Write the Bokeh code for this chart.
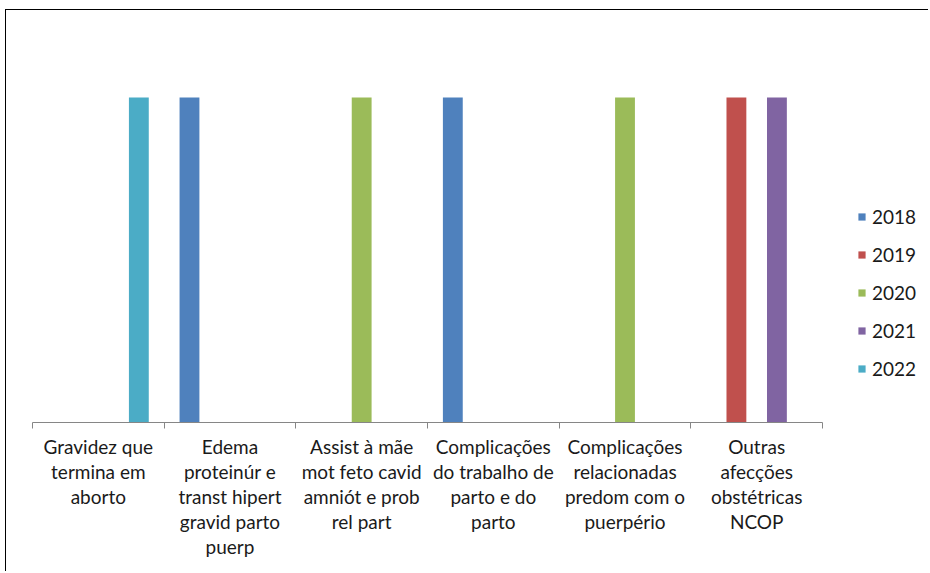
import numpy as np
from bokeh.plotting import figure
from bokeh.models import Range1d, FixedTicker, Legend, LegendItem, ColumnDataSource
from bokeh.embed import file_html
from bokeh.resources import INLINE

categories = [
    "Gravidez que\ntermina em\naborto",
    "Edema\nproteinúr e\ntranst hipert\ngravid parto\npuerp",
    "Assist à mãe\nmot feto cavid\namniót e prob\nrel part",
    "Complicações\ndo trabalho de\nparto e do\nparto",
    "Complicações\nrelacionadas\npredom com o\npuerpério",
    "Outras\nafecções\nobstétricas\nNCOP",
]
years = ["2018", "2019", "2020", "2021", "2022"]
v2018 = [0, 1, 0, 1, 0, 0]
v2019 = [0, 0, 0, 0, 0, 1]
v2020 = [0, 0, 1, 0, 1, 0]
v2021 = [0, 0, 0, 0, 0, 1]
v2022 = [1, 0, 0, 0, 0, 0]
series = [v2018, v2019, v2020, v2021, v2022]
colors = ["#4F81BD", "#C0504D", "#9BBB59", "#8064A2", "#4BACC6"]

n = len(categories)
k = len(years)
gap = 1.5
bw = 1.0 / (k + gap)

# figure content starts at page (6, 10) because of the CSS margin + border
W, H = 923, 562
ml, mr, mt = 26, 3, 22
mb = H - (422 - 10)
frame_w = W - ml - mr
axis_w = 790  # pixel span of the category axis
x_end = n * frame_w / axis_w

p = figure(width=W, height=H, output_backend="svg", toolbar_location=None,
           x_range=Range1d(0, x_end), y_range=Range1d(0, 1.2),
           min_border_left=ml, min_border_right=mr, min_border_top=mt,
           min_border_bottom=mb)
p.styles = {
    "margin-left": "5px",
    "margin-top": "9px",
    "border-top": "1px solid #000",
    "border-left": "1px solid #000",
}
p.outline_line_color = None
p.grid.visible = False
p.yaxis.visible = False
p.background_fill_color = "white"
p.border_fill_color = "white"

centers = np.arange(n) + 0.5
items = []
for j, (yr, vals, c) in enumerate(zip(years, series, colors)):
    xs = np.arange(n) + bw * gap / 2 + bw * (j + 0.5)
    src = ColumnDataSource(dict(x=xs, top=vals))
    r = p.vbar(x="x", top="top", width=bw * 0.98, source=src, fill_color=c,
               line_color=None)
    items.append(LegendItem(label=yr, renderers=[r]))

ax = p.xaxis[0]
ax.bounds = (0, n)
ax.ticker = FixedTicker(ticks=list(centers), minor_ticks=list(range(n + 1)))
ax.major_label_overrides = {float(c): lab for c, lab in zip(centers, categories)}
ax.major_tick_line_color = None
ax.major_tick_out = 6
ax.major_tick_in = 0
ax.minor_tick_out = 6
ax.minor_tick_in = 0
ax.minor_tick_line_color = "#868686"
ax.axis_line_color = "#868686"
ax.major_label_standoff = 6
ax.major_label_text_font = "Lato"
ax.major_label_text_font_size = "19px"
ax.major_label_text_color = "#1a1a1a"
ax.major_label_text_line_height = 1.09
ax.major_label_orientation = "horizontal"

legend = Legend(items=items, location=(825, 42), padding=0, margin=0,
                glyph_width=9, glyph_height=9, label_height=20, spacing=15,
                label_standoff=6, border_line_color=None,
                background_fill_alpha=0,
                label_text_font="Lato", label_text_font_size="19px",
                label_text_color="#1a1a1a")
p.add_layout(legend, "center")

open("out.html", "w").write(file_html(p, INLINE))
